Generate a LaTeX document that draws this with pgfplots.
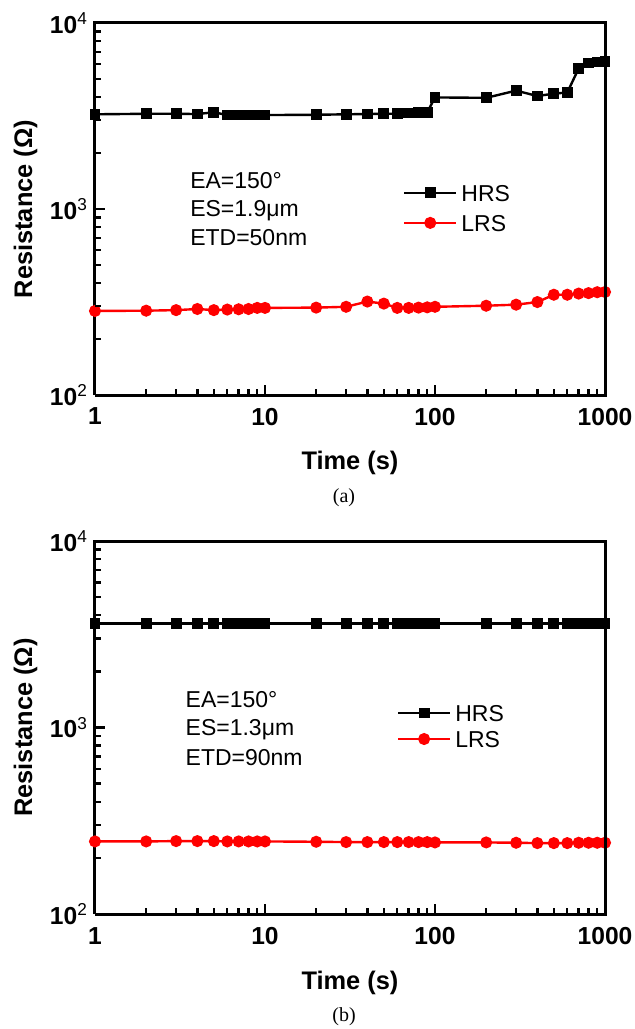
\documentclass[border=0pt]{standalone}
\usepackage{fontspec}
\setmainfont{Liberation Sans}
\newfontfamily\capfont{Liberation Serif}
\usepackage{pgfplots}
\usepackage{pgfplotstable}
\pgfplotsset{compat=1.18}

\pgfplotstableread{
t hrs lrs
1 3230 283
2 3250 284
3 3250 286
4 3240 290
5 3310 286
6 3200 288
7 3200 289
8 3200 290
9 3200 294
10 3200 294
20 3210 295
30 3230 298
40 3240 318
50 3250 310
60 3250 294
70 3280 294
80 3300 295
90 3310 296
100 3980 298
200 3960 302
300 4330 306
400 4050 316
500 4170 346
600 4230 346
700 5700 351
800 6090 353
900 6170 357
1000 6190 358
}\dataA

\pgfplotstableread{
t hrs lrs
1 3610 245
2 3610 245
3 3610 246
4 3610 246
5 3610 246
6 3610 245
7 3610 245
8 3610 245
9 3610 245
10 3610 245
20 3610 244
30 3610 243
40 3610 243
50 3610 243
60 3610 243
70 3610 243
80 3610 243
90 3610 243
100 3610 242
200 3610 242
300 3610 241
400 3610 240
500 3610 240
600 3610 240
700 3610 241
800 3610 241
900 3610 241
1000 3610 241
}\dataB

\tikzset{annot/.style={anchor=west, inner sep=0pt, text height=8.2pt, text depth=0pt, font=\fontsize{11.5}{13}\selectfont}}

\pgfplotsset{
  hrs/.style={black, line width=1.2pt, mark=square*, mark size=2.1pt, mark options={solid}},
  lrs/.style={red, line width=1.2pt, mark=*, mark size=2.4pt, mark options={solid}},
}

\newcommand{\drawticks}{%
  \foreach \x in {2,3,4,5,6,7,8,9,20,30,40,50,60,70,80,90,200,300,400,500,600,700,800,900} {\draw[line width=1.2pt] (axis cs:\x,100) -- ++(0pt,3pt);}%
  \foreach \x in {10,100} {\draw[line width=1.2pt] (axis cs:\x,100) -- ++(0pt,5pt);}%
  \foreach \y in {200,300,400,500,600,700,800,900,2000,3000,4000,5000,6000,7000,8000,9000} {\draw[line width=1.2pt] (axis cs:1,\y) -- ++(3pt,0pt);}%
  \foreach \y in {1000} {\draw[line width=1.2pt] (axis cs:1,\y) -- ++(5pt,0pt);}%
  \draw[line width=1.5pt, line cap=rect] (rel axis cs:0,1) -- (rel axis cs:1,1) -- (rel axis cs:1,0);%
}

\begin{document}
\begin{tikzpicture}
\path[use as bounding box] (0pt,0pt) rectangle (317pt,-514.5pt);

\begin{axis}[xmode=log, ymode=log, xmin=1, xmax=1000, ymin=100, ymax=10000,
  width=255pt, scale only axis, clip=false,
  axis x line*=bottom, axis y line*=left,
  axis line style={line width=1.5pt},
  tick align=inside,
  major tick length=5pt, minor tick length=3pt,
  major tick style={line width=1.2pt, draw=black},
  minor tick style={line width=1.2pt, draw=black},
  xtick={1,10,100,1000}, xticklabels={1,10,100,1000},
  minor xtick={2,3,4,5,6,7,8,9,20,30,40,50,60,70,80,90,200,300,400,500,600,700,800,900},
  ytick={100,1000,10000},
  yticklabels={10\textsuperscript{\mdseries 2},10\textsuperscript{\mdseries 3},10\textsuperscript{\mdseries 4}},
  minor ytick={200,300,400,500,600,700,800,900,2000,3000,4000,5000,6000,7000,8000,9000},
  ticklabel style={font=\fontsize{12.3}{14}\selectfont\bfseries},
  xticklabel style={yshift=-3pt},
  xlabel={Time (s)}, ylabel={Resistance (Ω)},
  label style={font=\fontsize{12.7}{15}\selectfont\bfseries},
  ylabel style={at={(axis description cs:-0.136,0.5)}, anchor=center, rotate=0},
  legend cell align=left,
  legend image code/.code={\draw[mark repeat=2,mark phase=2] plot coordinates {(0pt,0pt)(13pt,0pt)(26pt,0pt)};},
  height=186pt, at={(47.5pt,-197.5pt)}, anchor=south west,
  xlabel style={at={(axis description cs:0.5,-0.183)}, anchor=center},
  legend style={draw=none, fill=none, inner sep=0pt, outer sep=0pt,
    font=\fontsize{11.5}{13}\selectfont,
    nodes={inner sep=1pt, text height=8.2pt, text depth=0pt},
    column sep=1pt, at={(0.604,0.503)}, anchor=west, row sep=4.8pt},
  after end axis/.code={\drawticks}]
\addplot[hrs] table[x=t, y=hrs] {\dataA};
\addplot[lrs] table[x=t, y=lrs] {\dataA};
\legend{HRS, LRS}
\node[annot] at (rel axis cs:0.186,0.578) {EA=150°};
\node[annot] at (rel axis cs:0.186,0.503) {ES=1.9μm};
\node[annot] at (rel axis cs:0.186,0.425) {ETD=50nm};
\end{axis}
\node[font=\capfont\fontsize{10}{12}\selectfont] at (172pt,-249pt) {(a)};

\begin{axis}[xmode=log, ymode=log, xmin=1, xmax=1000, ymin=100, ymax=10000,
  width=255pt, scale only axis, clip=false,
  axis x line*=bottom, axis y line*=left,
  axis line style={line width=1.5pt},
  tick align=inside,
  major tick length=5pt, minor tick length=3pt,
  major tick style={line width=1.2pt, draw=black},
  minor tick style={line width=1.2pt, draw=black},
  xtick={1,10,100,1000}, xticklabels={1,10,100,1000},
  minor xtick={2,3,4,5,6,7,8,9,20,30,40,50,60,70,80,90,200,300,400,500,600,700,800,900},
  ytick={100,1000,10000},
  yticklabels={10\textsuperscript{\mdseries 2},10\textsuperscript{\mdseries 3},10\textsuperscript{\mdseries 4}},
  minor ytick={200,300,400,500,600,700,800,900,2000,3000,4000,5000,6000,7000,8000,9000},
  ticklabel style={font=\fontsize{12.3}{14}\selectfont\bfseries},
  xticklabel style={yshift=-3pt},
  xlabel={Time (s)}, ylabel={Resistance (Ω)},
  label style={font=\fontsize{12.7}{15}\selectfont\bfseries},
  ylabel style={at={(axis description cs:-0.136,0.5)}, anchor=center, rotate=0},
  legend cell align=left,
  legend image code/.code={\draw[mark repeat=2,mark phase=2] plot coordinates {(0pt,0pt)(13pt,0pt)(26pt,0pt)};},
  height=186.5pt, at={(47.5pt,-457pt)}, anchor=south west,
  xlabel style={at={(axis description cs:0.5,-0.185)}, anchor=center},
  legend style={draw=none, fill=none, inner sep=0pt, outer sep=0pt,
    font=\fontsize{11.5}{13}\selectfont,
    nodes={inner sep=1pt, text height=8.2pt, text depth=0pt},
    column sep=1pt, at={(0.592,0.504)}, anchor=west, row sep=2.8pt},
  after end axis/.code={\drawticks}]
\addplot[hrs] table[x=t, y=hrs] {\dataB};
\addplot[lrs] table[x=t, y=lrs] {\dataB};
\legend{HRS, LRS}
\node[annot] at (rel axis cs:0.177,0.576) {EA=150°};
\node[annot] at (rel axis cs:0.177,0.501) {ES=1.3μm};
\node[annot] at (rel axis cs:0.177,0.421) {ETD=90nm};
\end{axis}
\node[font=\capfont\fontsize{10}{12}\selectfont] at (172pt,-508.5pt) {(b)};
\end{tikzpicture}
\end{document}
